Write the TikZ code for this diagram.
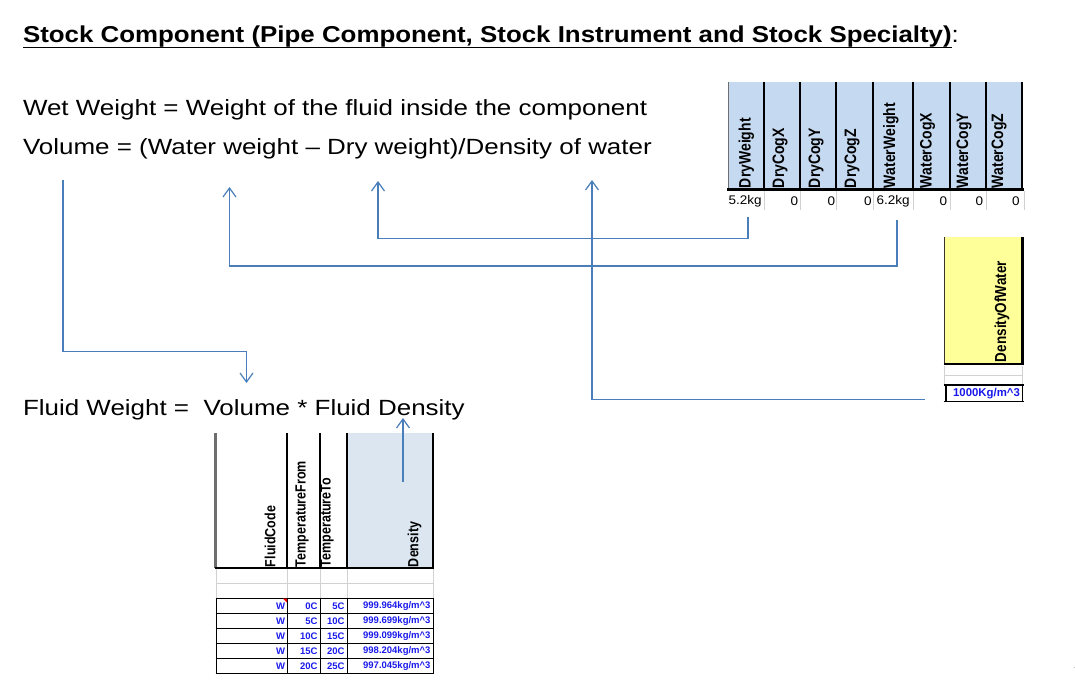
\documentclass[tikz,border=0pt]{standalone}
\usepackage{fontspec}
\setmainfont{Liberation Sans}
\usetikzlibrary{arrows.meta,calc}
\definecolor{conncol}{RGB}{74,126,187}
\definecolor{hdrblue}{RGB}{197,217,241}
\definecolor{hdrgray}{RGB}{220,230,241}
\definecolor{hdryellow}{RGB}{255,255,153}
\definecolor{valblue}{RGB}{25,25,235}
\definecolor{gridgray}{RGB}{210,210,210}
\definecolor{bordergray}{RGB}{110,110,110}
\newcommand{\sxt}[1]{\scalebox{1.18}[1]{#1}}
\newcommand{\sxs}[1]{\scalebox{1.08}[1]{#1}}
\newcommand{\syt}[1]{\scalebox{1}[1.18]{#1}}
\begin{document}
\begin{tikzpicture}[x=1pt,y=-1pt,
  conn/.style={draw=conncol, line width=1.2pt, -{Straight Barb[length=9pt,width=13pt]}},
  plain/.style={inner sep=0pt, outer sep=0pt},
  big/.style={plain, anchor=base west, font=\fontsize{22}{26}\selectfont},
  hdrtop/.style={plain, rotate=90, anchor=west, font=\bfseries\fontsize{14}{16}\selectfont},
  hdrbot/.style={plain, rotate=90, anchor=west, font=\bfseries\fontsize{12.5}{14}\selectfont},
  valtop/.style={plain, font=\fontsize{12.5}{14}\selectfont},
  valbot/.style={plain, anchor=east, text=valblue, font=\bfseries\fontsize{9.5}{11}\selectfont},
  thickrule/.style={line width=2.5pt, black},
  gridline/.style={line width=0.8pt, gridgray},
  cellline/.style={line width=0.9pt, black}
]
\useasboundingbox (0,0) rectangle (1075,682);

% ---------- title and formulas ----------
\node[big, font=\bfseries\fontsize{23}{27}\selectfont] (title) at (23,43)
  {\scalebox{1.125}[1]{Stock Component (Pipe Component, Stock Instrument and Stock Specialty)}};
\node[big, font=\fontsize{23}{27}\selectfont] (colon) at (title.base east) {\scalebox{1.125}[1]{:}};
\draw[line width=1.8pt] ($(title.base west)+(0,4.5)$) -- ($(title.base east)+(0,4.5)$);

\node[big] (wet) at (23,116) {\sxt{Wet Weight = Weight of the fluid inside the component}};
\node[big] (vol) at (23,154) {\sxt{Volume = (Water weight -- Dry weight)/Density of water}};
\node[big] (fluid) at (23,415) {\sxt{Fluid Weight = \ Volume * Fluid Density}};

% ---------- top table ----------
\fill[hdrblue] (728,82) rectangle (1023,190);
\draw[line width=0.6pt, bordergray] (728,82) -- (728,190);
\foreach \x in {764,800,836,873,913,950,986,1022}
  \draw[thickrule] (\x,82) -- (\x,190);
\draw[line width=3pt] (727,189) -- (1024,189);
\foreach \x in {764,800,836,873,913,950,986,1024}
  \draw[gridline] (\x,191) -- (\x,210);

\node[hdrtop] (hDW)  at (746.5,188) {\syt{DryWeight}};
\node[hdrtop] (hDX)  at (780,188)   {\syt{DryCogX}};
\node[hdrtop] (hDY)  at (816,188)   {\syt{DryCogY}};
\node[hdrtop] (hDZ)  at (852,188)   {\syt{DryCogZ}};
\node[hdrtop] (hWW)  at (891,188)   {\syt{WaterWeight}};
\node[hdrtop] (hWX)  at (927.5,188) {\syt{WaterCogX}};
\node[hdrtop] (hWY)  at (964,188)   {\syt{WaterCogY}};
\node[hdrtop] (hWZ)  at (999,188)   {\syt{WaterCogZ}};

\node[valtop, anchor=west] (vDW) at (728.5,201.5) {\sxs{5.2kg}};
\node[valtop, anchor=east] (vDX) at (798,201.5) {\sxs{0}};
\node[valtop, anchor=east] (vDY) at (835,201.5) {\sxs{0}};
\node[valtop, anchor=east] (vDZ) at (871.5,201.5) {\sxs{0}};
\node[valtop, anchor=west] (vWW) at (876.5,201.5) {\sxs{6.2kg}};
\node[valtop, anchor=east] (vWX) at (947,201.5) {\sxs{0}};
\node[valtop, anchor=east] (vWY) at (983,201.5) {\sxs{0}};
\node[valtop, anchor=east] (vWZ) at (1019.5,201.5) {\sxs{0}};

% ---------- density of water ----------
\fill[hdryellow] (944,237) rectangle (1023,364);
\draw[line width=1.2pt, black!80!olive] (944.5,237) -- (944.5,364);
\draw[thickrule] (1022.5,237) -- (1022.5,365);
\draw[line width=2.2pt] (943.5,364) -- (1024,364);
\draw[gridline] (944.5,366) -- (944.5,385);
\draw[gridline] (1022.5,366) -- (1022.5,385);
\draw[gridline] (944.5,375) -- (1022.5,375);
\node[hdrtop, font=\bfseries\fontsize{13.5}{15}\selectfont] (hDOW) at (1002,362) {\syt{DensityOfWater}};
\draw[line width=1.2pt] (943.5,385) -- (1024,385);
\draw[line width=1.2pt] (943.5,401.5) -- (1024,401.5);
\draw[line width=2pt] (945.5,385) -- (945.5,401.5);
\draw[line width=1pt] (1022.5,385) -- (1022.5,401.5);
\node[plain, text=valblue, font=\bfseries\fontsize{11.4}{13}\selectfont] (vDOW) at (986.5,393.5) {1000Kg/m\^{}3};

% ---------- fluid table ----------
\fill[hdrgray] (347,433) rectangle (433,568);
\draw[line width=2.6pt, bordergray] (215.5,433) -- (215.5,568);
\foreach \x in {287,320,347,433}
  \draw[line width=2pt] (\x,433) -- (\x,568);
\draw[line width=2pt] (214.5,568) -- (434,568);
\foreach \x in {216,287,320,347,433}
  \draw[gridline] (\x,569) -- (\x,598);
\draw[gridline] (216,583) -- (433,583);
\foreach \y in {598,613,628,643,658,673}
  \draw[cellline] (215.5,\y) -- (433.5,\y);
\foreach \x in {216,287,320,347,433}
  \draw[cellline] (\x,598) -- (\x,673);
\fill[red] (283,598.5) -- (287,598.5) -- (287,602.5) -- cycle;

\node[hdrbot] (hFC) at (270,567)   {\syt{FluidCode}};
\node[hdrbot] (hTF) at (302,567)   {\syt{TemperatureFrom}};
\node[hdrbot] (hTT) at (327,567)   {\syt{TemperatureTo}};
\node[hdrbot] (hDen) at (414.5,567) {\syt{Density}};

\foreach \r/\yy/\tf/\tt/\dn in {1/605.8/0C/5C/999.964,2/620.8/5C/10C/999.699,3/635.8/10C/15C/999.099,4/650.8/15C/20C/998.204,5/665.8/20C/25C/997.045}{
  \node[valbot] (fc\r) at (285,\yy) {W};
  \node[valbot] (tf\r) at (317.5,\yy) {\tf};
  \node[valbot] (tt\r) at (344.5,\yy) {\tt};
  \node[valbot] (dn\r) at (430.5,\yy) {\dn kg/m\^{}3};
}

% ---------- connectors ----------
\coordinate (volsrc) at (63,180);
\coordinate (voltgt) at (246.5,383);
\draw[conn] (volsrc) -- (63,351.5) -| (voltgt);

\coordinate (dwsrc) at (748,217);
\coordinate (dwtgt) at (378,181);
\draw[conn] (dwsrc) -- (748,238.5) -| (dwtgt);

\coordinate (wwsrc) at (897,220);
\coordinate (wwtgt) at (229.5,187);
\draw[conn] (wwsrc) -- (897,266) -| (wwtgt);

\coordinate (dowsrc) at (925,399.5);
\coordinate (dowtgt) at (592,180);
\draw[conn] (dowsrc) -| (dowtgt);

\coordinate (densrc) at (403,482);
\coordinate (dentgt) at (403,418);
\draw[conn] (densrc) -- (dentgt);

\fill[gray!60] (1074.3,667.5) circle (0.6);
\end{tikzpicture}
\end{document}
